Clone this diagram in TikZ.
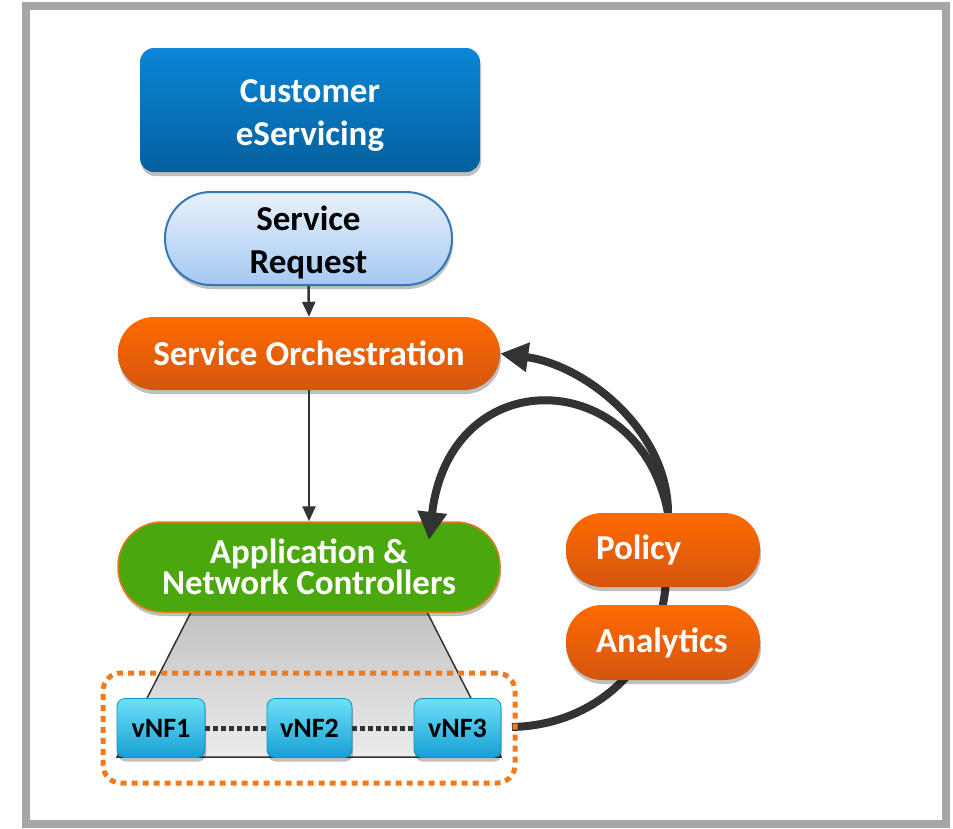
\documentclass[tikz,border=0pt]{standalone}
\usepackage{fontspec}
\setmainfont{Carlito}
\usetikzlibrary{arrows.meta,shadows}
\definecolor{frameg}{HTML}{A6A6A6}
\definecolor{bluetop}{HTML}{0B86D6}
\definecolor{bluebot}{HTML}{05609F}
\definecolor{reqtop}{HTML}{E8F1FC}
\definecolor{reqbot}{HTML}{A4C9F2}
\definecolor{reqline}{HTML}{3478B8}
\definecolor{ortop}{HTML}{FF6A00}
\definecolor{orbot}{HTML}{D45510}
\definecolor{grn}{HTML}{4AA80E}
\definecolor{grnline}{HTML}{E8781E}
\definecolor{cyantop}{HTML}{6EE0F8}
\definecolor{cyanbot}{HTML}{16A0D5}
\definecolor{cyanline}{HTML}{1590C0}
\definecolor{dark}{HTML}{333333}
\definecolor{dotor}{HTML}{F07A1E}
\definecolor{traptop}{HTML}{C2C2C2}
\definecolor{trapbot}{HTML}{ECECEC}
\begin{document}
\begin{tikzpicture}[x=1pt,y=-1pt,
  shad/.style={drop shadow={shadow xshift=1pt,shadow yshift=-4pt,opacity=0.25,fill=black}},
  bigtext/.style={font=\bfseries\fontsize{35}{43}\selectfont,align=center,inner sep=0pt},
  custbox/.style={shad,top color=bluetop,bottom color=bluebot,rounded corners=14pt,
    minimum width=340pt,minimum height=124pt},
  reqbox/.style={shad,top color=reqtop,bottom color=reqbot,draw=reqline,line width=2pt,
    rounded corners=46pt,minimum width=287pt,minimum height=93pt},
  orbox/.style={bigtext,shad,text=white,top color=ortop,bottom color=orbot,rounded corners=36pt,
    minimum height=73pt},
  sidebox/.style={orbox,align=left,text width=134pt,inner xsep=30pt,minimum width=194pt,minimum height=74pt},
  ctrlbox/.style={bigtext,shad,text=white,fill=grn,draw=grnline,line width=1.5pt,rounded corners=44pt,
    minimum width=382pt,minimum height=90pt,font=\bfseries\fontsize{35}{26}\selectfont},
  vnfbox/.style={shad,font=\bfseries\fontsize{28}{32}\selectfont,text=black,top color=cyantop,bottom color=cyanbot,
    draw=cyanline,line width=0.8pt,rounded corners=8pt,minimum height=59pt,inner sep=0pt},
  thinarrow/.style={draw=dark,line width=2.5pt,-{Triangle[length=15pt,width=13pt]}},
  thickline/.style={draw=dark,line width=8pt},
  thickarrow/.style={thickline,-{Triangle[length=28pt,width=28pt]}},
  dotline/.style={draw=dark,line width=5pt,dash pattern=on 5pt off 3pt},
]
\useasboundingbox (0,0) rectangle (953,828);
\draw[frameg,line width=8pt] (26,6) rectangle (946,824);

% top nodes
\node[custbox] (cust) at (310,110) {};
\node[bigtext,text=white] (custlabel) at (310,115) {Customer\\eServicing};
\node[reqbox] (req) at (308.5,238.5) {};
\node[bigtext,text=black] (reqlabel) at (308.5,242) {Service\\Request};
\node[orbox,minimum width=382pt] (orch) at (309,353.5) {Service Orchestration};

% trapezoid
\shade[top color=traptop,bottom color=trapbot] (191,612) -- (427,612) -- (501,757) -- (117,757) -- cycle;
\draw[dark,line width=1.5pt] (191,612) -- (117,757) -- (501,757) -- (427,612);

\node[ctrlbox] (ctrl) at (309,567) {Application \&\\Network Controllers};

% loop line (behind pills)
\coordinate (loopstart) at (512,727);
\coordinate (split) at (668,513);
\coordinate (ctrltip) at (429,540);
\draw[thickline] (loopstart) .. controls (600,725) and (662,660) .. (666,580) -- (split);
\draw[thickarrow] (split) .. controls (668,430) and (585,365) .. (orch.east);
\draw[thickarrow] (split) .. controls (640,365) and (450,360) .. (ctrltip);

\node[sidebox] (policy) at (663,550) {Policy};
\node[sidebox,minimum height=75pt] (analytics) at (663,642.5) {Analytics};

% vNFs
\node[vnfbox,minimum width=88pt] (vnf1) at (161,728) {vNF1};
\node[vnfbox,minimum width=85pt] (vnf2) at (309.5,728) {vNF2};
\node[vnfbox,minimum width=87pt] (vnf3) at (457.5,728) {vNF3};
\draw[dotline] (vnf1.east) -- (vnf2.west);
\draw[dotline] (vnf2.east) -- (vnf3.west);

\node[draw=dotor,line width=5pt,dash pattern=on 6pt off 5pt,rounded corners=18pt,
  minimum width=412pt,minimum height=110pt,inner sep=0pt] (group) at (309,728) {};

% thin arrows
\draw[thinarrow] (req.south) -- (orch.north);
\draw[thinarrow] (orch.south) -- (ctrl.north);
\end{tikzpicture}
\end{document}
